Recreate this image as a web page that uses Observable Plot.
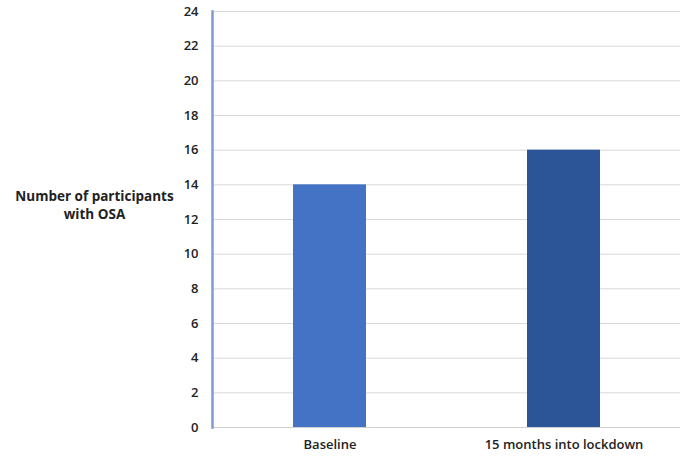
<!DOCTYPE html>
<html>
<head>
<meta charset="utf-8">
<script src="https://cdn.jsdelivr.net/npm/d3@7"></script>
<script src="https://cdn.jsdelivr.net/npm/@observablehq/plot@0.6"></script>
<style>
  html, body { margin: 0; padding: 0; background: #fff; }
  #chart svg { display: block; }
</style>
</head>
<body>
<div id="chart"></div>
<script>
const categories = ["Baseline", "15 months into lockdown"];
const values = [14, 16];
const barColors = ["#4472C4", "#2B5597"];
const yTicks = [0, 2, 4, 6, 8, 10, 12, 14, 16, 18, 20, 22, 24];
const yLabel = "Number of participants\nwith OSA";

const data = categories.map((c, i) => ({category: c, value: values[i], color: barColors[i]}));

const chart = Plot.plot({
  width: 696,
  height: 466,
  marginLeft: 212,
  marginRight: 16,
  marginTop: 11,
  marginBottom: 39,
  style: {fontFamily: "'Open Sans', sans-serif", fontSize: "13px", fontWeight: "600", color: "#222", background: "#fff"},
  x: {domain: categories, paddingInner: 0.69, paddingOuter: 0.345, label: null, tickSize: 0, tickPadding: 12},
  y: {domain: [0, 24], ticks: yTicks, label: null, tickSize: 0, tickPadding: 14},
  marks: [
    Plot.gridY(yTicks, {stroke: "#d9d9d9", strokeOpacity: 1}),
    Plot.barY(data, {x: "category", y: "value", fill: "color"}),
    Plot.ruleY([0], {stroke: "#d0d0d0"}),
    Plot.frame({anchor: "left", stroke: "#7f9ccb", strokeWidth: 2.5}),
    Plot.text([yLabel], {frameAnchor: "left", dx: -118, dy: -15, textAnchor: "middle", fontWeight: "bold", fontSize: 13.5, lineHeight: 1.35, fill: "#222"})
  ]
});
document.getElementById("chart").append(chart);
</script>
</body>
</html>
